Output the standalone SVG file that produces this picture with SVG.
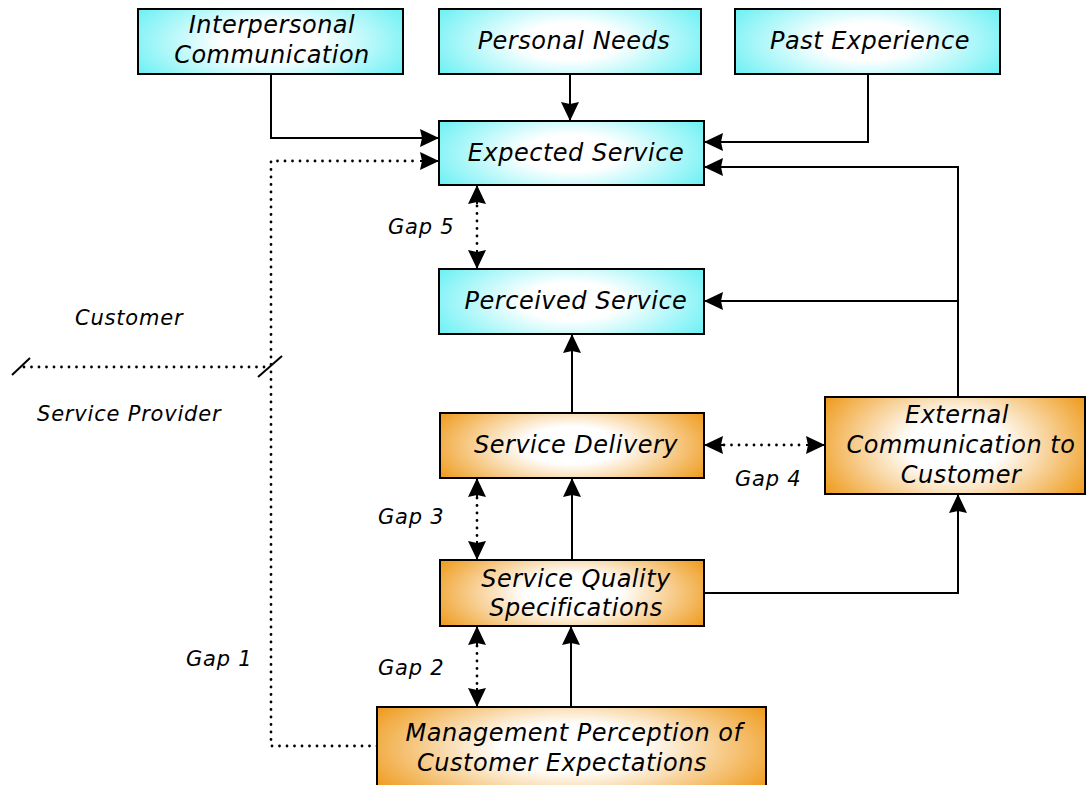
<svg xmlns="http://www.w3.org/2000/svg" width="1086" height="785" viewBox="0 0 1086 785">
<defs>
<radialGradient id="gc" cx="0.5" cy="0.5" r="0.6" gradientTransform="translate(0.5 0.5) scale(1 1.6) translate(-0.5 -0.5)">
<stop offset="0" stop-color="#ffffff"/>
<stop offset="0.3" stop-color="#ffffff"/>
<stop offset="1" stop-color="#66f0f4"/>
</radialGradient>
<radialGradient id="go" cx="0.5" cy="0.5" r="0.6" gradientTransform="translate(0.5 0.5) scale(1 1.6) translate(-0.5 -0.5)">
<stop offset="0" stop-color="#ffffff"/>
<stop offset="0.3" stop-color="#ffffff"/>
<stop offset="1" stop-color="#ee9612"/>
</radialGradient>
<marker id="ah" viewBox="0 0 19 18" refX="19" refY="9" markerWidth="19" markerHeight="18" markerUnits="userSpaceOnUse" orient="auto-start-reverse">
<path d="M0,0 L19,9 L0,18 L2,9 z" fill="#000"/>
</marker>
<style>
.box{stroke:#000;stroke-width:2}
.cy{fill:url(#gc)}
.or{fill:url(#go)}
.t{font-family:"DejaVu Sans","Verdana",sans-serif;font-style:italic;font-size:24px;letter-spacing:0.5px;fill:#000;text-anchor:middle}
.l{font-family:"DejaVu Sans","Verdana",sans-serif;font-style:italic;font-size:21px;letter-spacing:0.8px;fill:#000}
.ln{fill:none;stroke:#000;stroke-width:2}
.dt{fill:none;stroke:#000;stroke-width:2.8;stroke-linecap:round;stroke-dasharray:0 7.5}
</style>
</defs>
<g id="connectors">
<path class="ln" d="M271,74 V138 H439" marker-end="url(#ah)"/>
<path class="ln" d="M570,74 V121" marker-end="url(#ah)"/>
<path class="ln" d="M868,74 V142 H704" marker-end="url(#ah)"/>
<path class="ln" d="M958,397 V167 H704" marker-end="url(#ah)"/>
<path class="ln" d="M958,301 H704" marker-end="url(#ah)"/>
<path class="ln" d="M572,413 V334" marker-end="url(#ah)"/>
<path class="ln" d="M572,560 V478" marker-end="url(#ah)"/>
<path class="ln" d="M571,707 V626" marker-end="url(#ah)"/>
<path class="ln" d="M704,593 H958 V494" marker-end="url(#ah)"/>
<path class="dt" d="M377,746 H271 V161 H420"/>
<path class="ln" d="M420,161 H439" marker-end="url(#ah)"/>
<path class="dt" d="M24,367 H268"/>
<path class="ln" d="M12,375 L30,358"/>
<path class="ln" d="M258,377 L282,356"/>
<g id="gap5"><path class="dt" d="M477,206 V249"/><path class="ln" d="M477,204 V185" marker-end="url(#ah)"/><path class="ln" d="M477,250 V269" marker-end="url(#ah)"/></g>
<g id="gap3"><path class="dt" d="M477,498 V541"/><path class="ln" d="M477,497 V478" marker-end="url(#ah)"/><path class="ln" d="M477,541 V560" marker-end="url(#ah)"/></g>
<g id="gap2"><path class="dt" d="M477,646 V688"/><path class="ln" d="M477,645 V626" marker-end="url(#ah)"/><path class="ln" d="M477,688 V707" marker-end="url(#ah)"/></g>
<g id="gap4"><path class="dt" d="M724,445 H805"/><path class="ln" d="M723,445 H704" marker-end="url(#ah)"/><path class="ln" d="M806,445 H825" marker-end="url(#ah)"/></g>
</g>
<g id="n-interpersonal"><rect class="box cy" x="138" y="9" width="265" height="65"/><text class="t" x="272" y="33">Interpersonal</text><text class="t" x="272" y="63">Communication</text></g>
<g id="n-needs"><rect class="box cy" x="439" y="9" width="262" height="65"/><text class="t" x="574" y="49">Personal Needs</text></g>
<g id="n-past"><rect class="box cy" x="735" y="9" width="265" height="65"/><text class="t" x="870" y="49">Past Experience</text></g>
<g id="n-expected"><rect class="box cy" x="439" y="121" width="265" height="64"/><text class="t" x="576" y="161">Expected Service</text></g>
<g id="n-perceived"><rect class="box cy" x="439" y="269" width="265" height="65"/><text class="t" x="576" y="309">Perceived Service</text></g>
<g id="n-delivery"><rect class="box or" x="440" y="413" width="264" height="65"/><text class="t" x="576" y="453">Service Delivery</text></g>
<g id="n-external"><rect class="box or" x="825" y="397" width="260" height="97"/><text class="t" x="957" y="423">External</text><text class="t" x="961" y="453">Communication to</text><text class="t" x="961" y="483">Customer</text></g>
<g id="n-specs"><rect class="box or" x="440" y="560" width="264" height="66"/><text class="t" x="576" y="587">Service Quality</text><text class="t" x="576" y="616">Specifications</text></g>
<g id="n-management"><rect class="box or" x="377" y="707" width="389" height="82"/><text class="t" x="574" y="741">Management Perception of</text><text class="t" x="562" y="771">Customer Expectations</text></g>
<g id="labels">
<text class="l" x="388" y="234">Gap 5</text>
<text class="l" x="735" y="486">Gap 4</text>
<text class="l" x="378" y="524">Gap 3</text>
<text class="l" x="378" y="675">Gap 2</text>
<text class="l" x="186" y="666">Gap 1</text>
<text class="l" x="75" y="325">Customer</text>
<text class="l" x="37" y="421">Service Provider</text>
</g>
</svg>
